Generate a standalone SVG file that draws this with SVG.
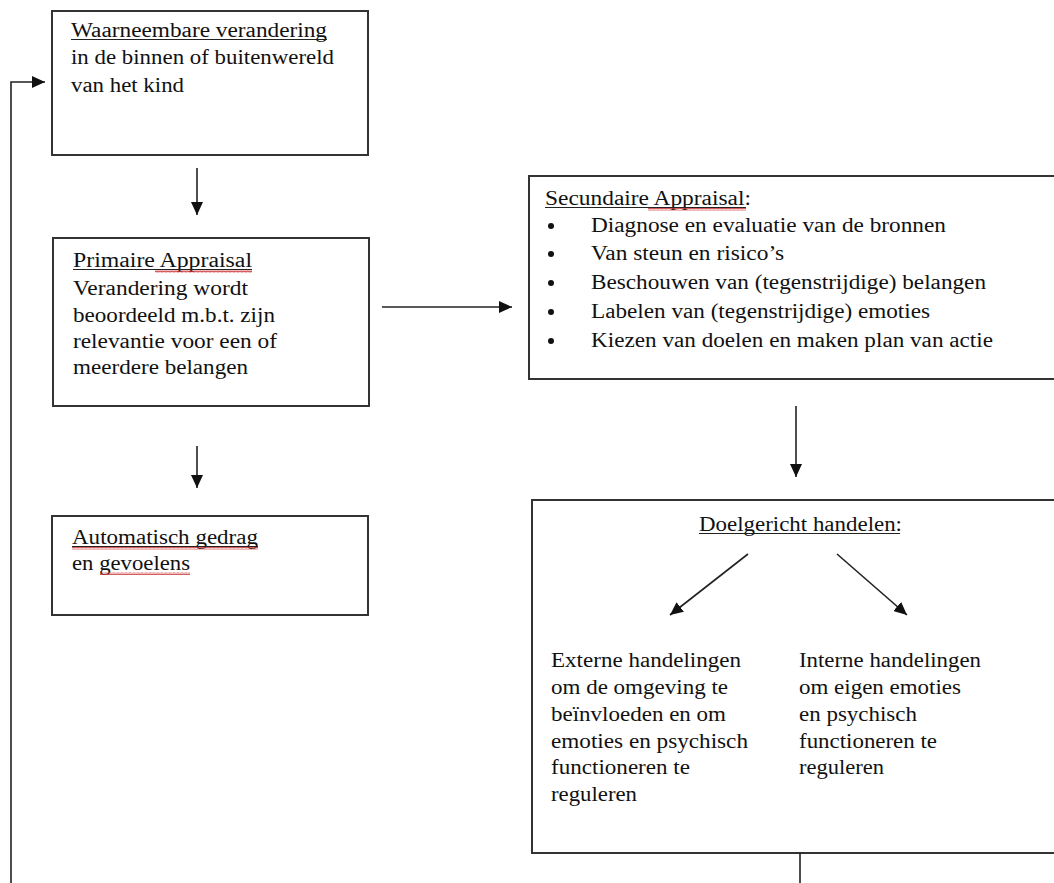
<svg xmlns="http://www.w3.org/2000/svg" width="1054" height="883" viewBox="0 0 1054 883">
<style>
.box{fill:#fff;stroke:#333;stroke-width:2}
.t{font-family:"Liberation Serif","Times New Roman",serif;font-size:20px;fill:#111}
.ul{stroke:#222;stroke-width:1.2}
.ln{stroke:#222;stroke-width:1.6;fill:none}
.sq{fill:url(#squig)}
</style>
<defs>
<marker id="ah" markerUnits="userSpaceOnUse" markerWidth="14" markerHeight="12" refX="13" refY="6" orient="auto">
<path d="M0,0 L13,6 L0,12 Z" fill="#111"/>
</marker>
<pattern id="squig" width="4" height="3" patternUnits="userSpaceOnUse">
<path d="M0,2.5 L1,0.5 L2,2.5 L3,0.5 L4,2.5" fill="none" stroke="#c33" stroke-width="0.8"/>
</pattern>
</defs>
<rect width="1054" height="883" fill="#fff"/>

<g id="waarneembare">
<rect class="box" x="52" y="11" width="316" height="144"/>
<text class="t" x="71" y="37" textLength="256" lengthAdjust="spacingAndGlyphs">Waarneembare verandering</text>
<line class="ul" x1="71" y1="39.5" x2="327" y2="39.5"/>
<text class="t" x="71" y="64" textLength="263" lengthAdjust="spacingAndGlyphs">in de binnen of buitenwereld</text>
<text class="t" x="71" y="92" textLength="113" lengthAdjust="spacingAndGlyphs">van het kind</text>
</g>

<g id="primaire">
<rect class="box" x="53" y="238" width="316" height="168"/>
<text class="t" x="73" y="267" textLength="179" lengthAdjust="spacingAndGlyphs">Primaire Appraisal</text>
<line class="ul" x1="73" y1="269.5" x2="252" y2="269.5"/>
<rect class="sq" x="155" y="270" width="97" height="3"/>
<text class="t" x="73" y="295" textLength="175" lengthAdjust="spacingAndGlyphs">Verandering wordt</text>
<text class="t" x="73" y="322" textLength="202" lengthAdjust="spacingAndGlyphs">beoordeeld m.b.t. zijn</text>
<text class="t" x="73" y="348" textLength="204" lengthAdjust="spacingAndGlyphs">relevantie voor een of</text>
<text class="t" x="73" y="374" textLength="175" lengthAdjust="spacingAndGlyphs">meerdere belangen</text>
</g>

<g id="automatisch">
<rect class="box" x="52" y="516" width="316" height="99"/>
<text class="t" x="72" y="544" textLength="186" lengthAdjust="spacingAndGlyphs">Automatisch gedrag</text>
<line class="ul" x1="72" y1="546.5" x2="258" y2="546.5"/>
<rect class="sq" x="72" y="547" width="186" height="3"/>
<text class="t" x="72" y="570" textLength="118" lengthAdjust="spacingAndGlyphs">en gevoelens</text>
<rect class="sq" x="100" y="572" width="90" height="3"/>
</g>

<g id="secundaire">
<rect class="box" x="529" y="176" width="540" height="203"/>
<text class="t" x="545" y="205" textLength="206" lengthAdjust="spacingAndGlyphs">Secundaire Appraisal:</text>
<line class="ul" x1="545" y1="207.5" x2="746" y2="207.5"/>
<rect class="sq" x="648" y="208" width="98" height="3"/>
<g fill="#111">
<circle cx="551" cy="226" r="3"/>
<circle cx="551" cy="254" r="3"/>
<circle cx="551" cy="283" r="3"/>
<circle cx="551" cy="312" r="3"/>
<circle cx="551" cy="341" r="3"/>
</g>
<text class="t" x="591" y="232" textLength="355" lengthAdjust="spacingAndGlyphs">Diagnose en evaluatie van de bronnen</text>
<text class="t" x="591" y="260" textLength="193" lengthAdjust="spacingAndGlyphs">Van steun en risico’s</text>
<text class="t" x="591" y="289" textLength="395" lengthAdjust="spacingAndGlyphs">Beschouwen van (tegenstrijdige) belangen</text>
<text class="t" x="591" y="318" textLength="339" lengthAdjust="spacingAndGlyphs">Labelen van (tegenstrijdige) emoties</text>
<text class="t" x="591" y="347" textLength="402" lengthAdjust="spacingAndGlyphs">Kiezen van doelen en maken plan van actie</text>
</g>

<g id="doelgericht">
<rect class="box" x="532" y="500" width="540" height="353"/>
<text class="t" x="699" y="531" textLength="203" lengthAdjust="spacingAndGlyphs">Doelgericht handelen:</text>
<line class="ul" x1="699" y1="533.5" x2="900" y2="533.5"/>
</g>

<g id="externe">
<text class="t" x="551" y="667" textLength="190" lengthAdjust="spacingAndGlyphs">Externe handelingen</text>
<text class="t" x="551" y="694" textLength="177" lengthAdjust="spacingAndGlyphs">om de omgeving te</text>
<text class="t" x="551" y="721" textLength="175" lengthAdjust="spacingAndGlyphs">beïnvloeden en om</text>
<text class="t" x="551" y="748" textLength="197" lengthAdjust="spacingAndGlyphs">emoties en psychisch</text>
<text class="t" x="551" y="774" textLength="139" lengthAdjust="spacingAndGlyphs">functioneren te</text>
<text class="t" x="551" y="801" textLength="86" lengthAdjust="spacingAndGlyphs">reguleren</text>
</g>

<g id="interne">
<text class="t" x="799" y="667" textLength="182" lengthAdjust="spacingAndGlyphs">Interne handelingen</text>
<text class="t" x="799" y="694" textLength="162" lengthAdjust="spacingAndGlyphs">om eigen emoties</text>
<text class="t" x="799" y="721" textLength="118" lengthAdjust="spacingAndGlyphs">en psychisch</text>
<text class="t" x="799" y="748" textLength="138" lengthAdjust="spacingAndGlyphs">functioneren te</text>
<text class="t" x="799" y="774" textLength="85" lengthAdjust="spacingAndGlyphs">reguleren</text>
</g>

<g id="connectors">
<line class="ln" x1="197" y1="168" x2="197" y2="215" marker-end="url(#ah)"/>
<line class="ln" x1="197" y1="446" x2="197" y2="488" marker-end="url(#ah)"/>
<line class="ln" x1="382" y1="307" x2="512" y2="307" marker-end="url(#ah)"/>
<line class="ln" x1="796" y1="406" x2="796" y2="477" marker-end="url(#ah)"/>
<line class="ln" x1="748" y1="554" x2="670" y2="615" marker-end="url(#ah)"/>
<line class="ln" x1="837" y1="554" x2="907" y2="615" marker-end="url(#ah)"/>
<line class="ln" x1="800" y1="853" x2="800" y2="883"/>
<polyline class="ln" points="11,883 11,82 45,82" marker-end="url(#ah)"/>
</g>
</svg>
